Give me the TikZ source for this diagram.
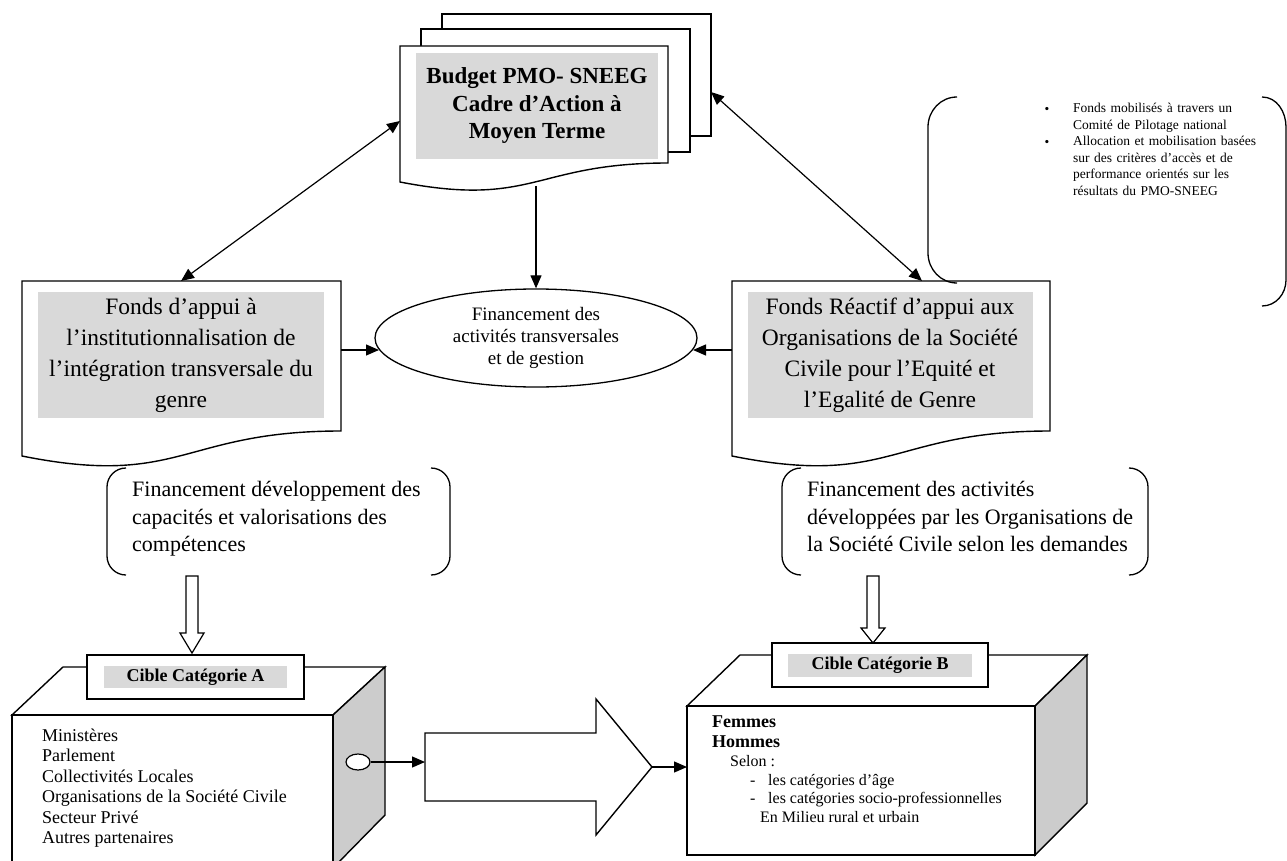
\documentclass[tikz,border=0pt]{standalone}
\usepackage{fontspec}
\setmainfont{Liberation Serif}
\usetikzlibrary{arrows.meta,shapes.geometric,calc}
\definecolor{boxgray}{RGB}{217,217,217}
\definecolor{sidegray}{RGB}{204,204,204}
\begin{document}
\begin{tikzpicture}[x=1pt,y=-1pt,
  shape line/.style={draw=black, line width=1.4pt, fill=white, line join=miter},
  graypanel/.style={fill=boxgray, inner sep=0pt, align=center},
  arr/.style={line width=1.2pt, -{Triangle[length=13pt,width=11pt]}},
  darr/.style={line width=1.2pt, {Triangle[length=13pt,width=11pt]}-{Triangle[length=13pt,width=11pt]}},
  bracket/.style={line width=1.3pt},
  txt/.style={inner sep=0pt, align=left},
  lineA/.style={inner sep=0pt, anchor=base west, font=\fontsize{18}{21}\selectfont},
  lineB/.style={inner sep=0pt, anchor=base west, font=\fontsize{16}{19}\selectfont},
  lineBb/.style={inner sep=0pt, anchor=base west, font=\bfseries\fontsize{18}{20}\selectfont}]
\useasboundingbox (0,0) rectangle (1287,861);
\clip (0,0) rectangle (1287,861);

% ---------- top stacked documents ----------
\draw[shape line] (442,14) rectangle (711,136);
\draw[shape line] (421,29) rectangle (690,152);
\draw[shape line] (400,46) -- (668,46) -- (668,163) .. controls (534,163) and (534,208) .. (400,182) -- cycle;
\node[graypanel, minimum width=242pt, minimum height=106pt, font=\bfseries\fontsize{23}{27.5}\selectfont] (top) at (537,106)
  {Budget PMO- SNEEG\\Cadre d’Action à\\Moyen Terme};
\coordinate (topL) at (400,121);
\coordinate (topR) at (711,92);
\coordinate (topB) at (536,186);

% ---------- left document ----------
\draw[shape line] (22,281) -- (341,281) -- (341,431) .. controls (181.5,431) and (181.5,488) .. (22,456) -- cycle;
\node[graypanel, minimum width=286pt, minimum height=126pt, font=\fontsize{23.5}{31}\selectfont] (lf) at (181,355)
  {Fonds d’appui à\\l’institutionnalisation de\\l’intégration transversale du\\genre};
\coordinate (lfT) at (181,281);
\coordinate (lfR) at (341,350);

% ---------- right document ----------
\draw[shape line] (732,281) -- (1050,281) -- (1050,431) .. controls (891,431) and (891,488) .. (732,456) -- cycle;
\node[graypanel, minimum width=285pt, minimum height=126pt, font=\fontsize{23.5}{31}\selectfont] (rf) at (890,355)
  {Fonds Réactif d’appui aux\\Organisations de la Société\\Civile pour l’Equité et\\l’Egalité de Genre};
\coordinate (rfT) at (922,281);
\coordinate (rfL) at (732,350);

% ---------- central ellipse ----------
\node[ellipse, draw, line width=1.3pt, minimum width=322pt, minimum height=98pt, inner sep=0pt, align=center,
  font=\fontsize{19}{22}\selectfont] (el) at (536,338)
  {Financement des\\activités transversales\\et de gestion};

\draw[darr] (lfT) -- (topL);
\draw[darr] (topR) -- (rfT);
\draw[arr] (topB) -- (el.north);
\draw[arr] (lfR) -- ($(el.center)+(-157,12)$);
\draw[arr] (rfL) -- ($(el.center)+(157,12)$);

% ---------- right bracket box ----------
\draw[bracket] (957,97) to[out=180,in=90] (928,127) -- (928,253) to[out=-90,in=180] (957,283);
\draw[bracket] (1262,97) to[out=0,in=90] (1286,127) -- (1286,280) to[out=-90,in=0] (1262,306);
\node[txt, font=\fontsize{13.5}{16.5}\selectfont] (b1) at (1047,110) {•};
\node[txt, anchor=north west, text width=185pt, font=\fontsize{13.5}{16.5}\selectfont] (bt1) at (1073,103)
  {Fonds mobilisés à travers un\\Comité de Pilotage national};
\node[txt, font=\fontsize{13.5}{16.5}\selectfont] (b2) at (1047,143) {•};
\node[txt, anchor=north west, text width=185pt, font=\fontsize{13.5}{16.5}\selectfont] (bt2) at (1073,136)
  {Allocation et mobilisation basées\\sur des critères d’accès et de\\performance orientés sur les\\résultats du PMO-SNEEG};

% ---------- lower bracket boxes ----------
\draw[bracket] (126,468) to[out=180,in=90] (107,487) -- (107,556) to[out=-90,in=180] (126,575);
\draw[bracket] (431,468) to[out=0,in=90] (450,487) -- (450,556) to[out=-90,in=0] (431,575);
\draw[bracket] (801,468) to[out=180,in=90] (782,487) -- (782,556) to[out=-90,in=180] (801,575);
\draw[bracket] (1129,468) to[out=0,in=90] (1148,487) -- (1148,556) to[out=-90,in=0] (1129,575);
\begin{scope}
\clip (100,470) rectangle (1150,561);
\node[txt, anchor=north west, font=\fontsize{22}{27.5}\selectfont] (lb) at (132,481)
  {Financement développement des\\capacités et valorisations des\\compétences};
\node[txt, anchor=north west, font=\fontsize{22}{27.5}\selectfont] (rb) at (807,481)
  {Financement des activités\\développées par les Organisations de\\la Société Civile selon les demandes};
\end{scope}

% ---------- hollow down arrows ----------
\draw[shape line, line width=1.2pt] (186,576) -- (198,576) -- (198,633) -- (204,633) -- (192,653) -- (180,633) -- (186,633) -- cycle;
\draw[shape line, line width=1.2pt] (867,576) -- (879,576) -- (879,628) -- (885,628) -- (873,643) -- (861,628) -- (867,628) -- cycle;

% ---------- box A ----------
\draw[shape line] (12,715) -- (63,667) -- (385,667) -- (333,715) -- cycle;
\draw[shape line, fill=sidegray] (333,715) -- (385,667) -- (385,815) -- (333,868) -- cycle;
\draw[shape line] (12,715) rectangle (333,868);
\draw[shape line] (87,655) rectangle (304,699);
\node[graypanel, minimum width=183pt, minimum height=22pt, font=\bfseries\fontsize{18}{20}\selectfont] (ca) at (195.5,677)
  {Cible Catégorie A};
\node[lineA] (a1) at (42,741) {Ministères};
\node[lineA] (a2) at (42,761.5) {Parlement};
\node[lineA] (a3) at (42,782) {Collectivités Locales};
\node[lineA] (a4) at (42,802.5) {Organisations de la Société Civile};
\node[lineA] (a5) at (42,823) {Secteur Privé};
\node[lineA] (a6) at (42,843.5) {Autres partenaires};
\node[ellipse, draw, line width=1.2pt, fill=white, minimum width=24pt, minimum height=16pt, inner sep=0pt] (oa) at (358,762) {};

% ---------- big hollow arrow ----------
\draw[shape line] (425,733) -- (596,733) -- (596,699) -- (652,767) -- (596,835) -- (596,801) -- (425,801) -- cycle;
\coordinate (bigL) at (425,762);
\coordinate (bigR) at (652,767);

% ---------- box B ----------
\draw[shape line] (687,706) -- (740,655) -- (1087,655) -- (1035,706) -- cycle;
\draw[shape line, fill=sidegray] (1035,706) -- (1087,655) -- (1087,803) -- (1035,855) -- cycle;
\draw[shape line] (687,706) rectangle (1035,855);
\draw[shape line] (772,643) rectangle (988,687);
\node[graypanel, minimum width=184pt, minimum height=23pt, font=\bfseries\fontsize{18}{20}\selectfont] (cb) at (880,665.5)
  {Cible Catégorie B};
\coordinate (bL) at (687,767);
\node[lineBb] (fe) at (712,727) {Femmes};
\node[lineBb] (ho) at (712,747) {Hommes};
\node[lineB] (se) at (730,766) {Selon :};
\node[lineB] (d1) at (750,785) {-};
\node[lineB] (c1) at (768,785) {les catégories d’âge};
\node[lineB] (d2) at (750,803) {-};
\node[lineB] (c2) at (768,803) {les catégories socio-professionnelles};
\node[lineB] (mr) at (760,822) {En Milieu rural et urbain};

\draw[arr] (oa.east) -- (bigL);
\draw[arr] (bigR) -- (bL);
\end{tikzpicture}
\end{document}
